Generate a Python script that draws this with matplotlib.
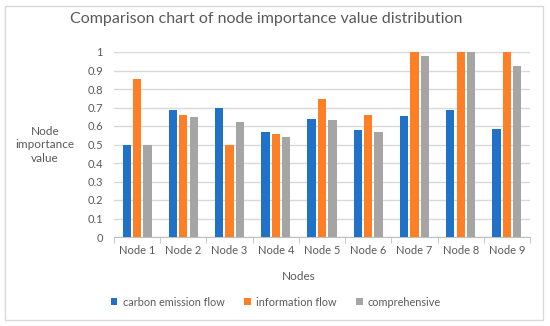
import matplotlib.pyplot as plt
from matplotlib.patches import Rectangle
import numpy as np

plt.rcParams['font.family'] = ['Lato', 'DejaVu Sans']

nodes = ['Node 1', 'Node 2', 'Node 3', 'Node 4', 'Node 5', 'Node 6', 'Node 7', 'Node 8', 'Node 9']
carbon = [0.50, 0.685, 0.70, 0.565, 0.64, 0.58, 0.652, 0.685, 0.582]
info = [0.856, 0.66, 0.50, 0.557, 0.748, 0.66, 1.0, 1.0, 1.0]
comp = [0.50, 0.65, 0.623, 0.54, 0.63, 0.567, 0.977, 1.0, 0.922]

series = [('carbon emission flow', carbon, '#1F72C8'),
          ('information flow', info, '#FF7F27'),
          ('comprehensive', comp, '#A5A5A5')]

text_col = '#595959'

fig = plt.figure(figsize=(5.5, 3.26), dpi=100)
fig.patch.set_facecolor('white')
# outer chart border
fig.patches.append(Rectangle((5 / 550, 6 / 326), 538 / 550, 314 / 326, transform=fig.transFigure,
                             fill=False, edgecolor='#D9D9D9', linewidth=1))

ax = fig.add_axes([114 / 550, 1 - 237 / 326, 416 / 550, 185 / 326])

x = np.arange(len(nodes))
w = 0.18
step = 0.225
for i, (name, vals, col) in enumerate(series):
    ax.bar(x + (i - 1) * step, vals, width=w, color=col, label=name, zorder=3)

ax.set_xlim(-0.5, len(nodes) - 0.5)
ax.set_ylim(0, 1)
ax.set_yticks(np.arange(0, 1.01, 0.1))
ax.set_yticklabels(['0', '0.1', '0.2', '0.3', '0.4', '0.5', '0.6', '0.7', '0.8', '0.9', '1'])
ax.yaxis.grid(True, color='#D9D9D9', linewidth=1, zorder=0)
ax.set_axisbelow(True)

ax.set_xticks(x)
ax.set_xticklabels(nodes)
ax.set_xticks(np.arange(-0.5, len(nodes), 1), minor=True)
ax.tick_params(axis='x', which='major', length=0, pad=6, labelsize=8, labelcolor=text_col)
ax.tick_params(axis='x', which='minor', length=4, color='#BFBFBF', direction='out')
ax.tick_params(axis='y', length=0, pad=8, labelsize=8, labelcolor=text_col)

for s in ['top', 'right', 'left']:
    ax.spines[s].set_visible(False)
ax.spines['bottom'].set_color('#BFBFBF')

fig.text(266 / 550, 1 - 19 / 326, 'Comparison chart of node importance value distribution',
         ha='center', va='center', fontsize=11.5, color=text_col)
fig.text(45 / 550, 1 - 145 / 326, 'Node\nimportance\nvalue', ha='center', va='center',
         fontsize=8.5, color=text_col, linespacing=1.3)
fig.text(299 / 550, 1 - 277 / 326, 'Nodes', ha='center', va='center', fontsize=8.5, color=text_col)

leg = fig.legend(loc='center', bbox_to_anchor=(276 / 550, 1 - 302 / 326), ncol=3, frameon=False,
                 fontsize=7.8, handlelength=0.6, handleheight=0.6, handletextpad=0.5,
                 columnspacing=1.8, labelcolor=text_col)

fig.savefig('out.png', dpi=100)
